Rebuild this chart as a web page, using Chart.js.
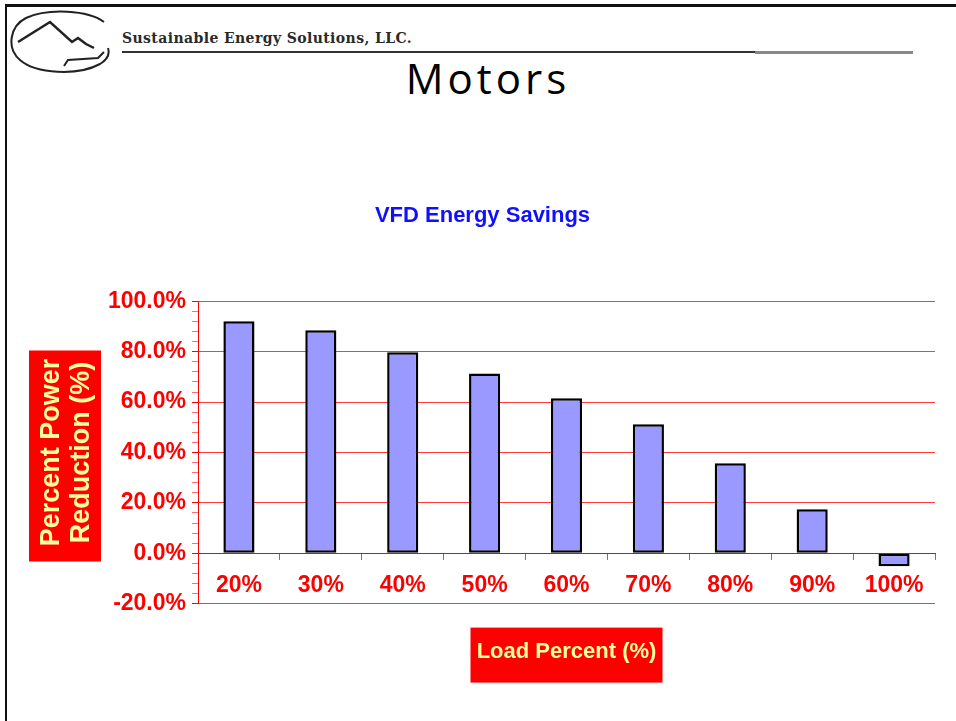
<!DOCTYPE html>
<html>
<head>
<meta charset="utf-8">
<title>VFD Energy Savings</title>
<script src="https://cdn.jsdelivr.net/npm/chart.js@4/dist/chart.umd.min.js"></script>
<style>
  html, body { margin: 0; padding: 0; background: #fff; }
  #slide { position: relative; width: 956px; height: 721px; overflow: hidden; }
  #frame { position: absolute; left: 5px; top: 4px; right: -10px; bottom: -10px;
           border-top: 3px solid #111; border-left: 2px solid #111; }
  #logo { position: absolute; left: 8px; top: 8px; }
  #company { position: absolute; left: 122px; top: 30px; font: bold 14px "DejaVu Serif", serif;
             color: #2a2a2a; letter-spacing: 0.4px; white-space: nowrap; }
  #rule1 { position: absolute; left: 122px; top: 51px; width: 633px; height: 2px; background: #333; }
  #rule2 { position: absolute; left: 755px; top: 51px; width: 158px; height: 3px; background: #888; }
  #heading { position: absolute; left: 0; width: 976px; top: 49px; text-align: center;
             font: 42px "Open Sans", sans-serif; letter-spacing: 4px; color: #000; }
  #wrap { position: absolute; left: 0; top: 0; width: 956px; height: 721px; }
</style>
</head>
<body>
<div id="slide">
  <div id="frame"></div>
  <svg id="logo" width="104" height="68" viewBox="0 0 104 68">
    <path d="M96 14 C80 2 40 0 18 10 C2 18 -2 40 12 52 C28 66 70 68 92 56 C100 51 102 46 100 40"
          fill="none" stroke="#222" stroke-width="2"/>
    <polyline points="10,34 42,14 64,34 70,30 78,36 86,40" fill="none" stroke="#222" stroke-width="2.5"/>
    <polyline points="56,58 60,52 90,50 96,44" fill="none" stroke="#222" stroke-width="2"/>
  </svg>
  <div id="company">Sustainable Energy Solutions, LLC.</div>
  <div id="rule1"></div>
  <div id="rule2"></div>
  <div id="heading">Motors</div>
  <div id="wrap"><canvas id="vfdChart"></canvas></div>
</div>
<script>
const loadLabels = ["20%", "30%", "40%", "50%", "60%", "70%", "80%", "90%", "100%"];
const powerReduction = [92.1, 88.5, 79.8, 71.4, 61.5, 51.2, 35.7, 17.5, -5.2];

const RED = "#ff0000";
const GRID_RED = "#ff3b3b";
const LABEL_YELLOW = "#ffff99";

// red boxes behind the two axis titles
const titleBoxes = {
  id: "titleBoxes",
  beforeDraw(chart) {
    const { ctx, chartArea, scales } = chart;
    const midY = (chartArea.top + chartArea.bottom) / 2;
    ctx.save();
    ctx.fillStyle = RED;
    ctx.fillRect(scales.y.left - 1, midY - 102, 72, 211);
    const midX = (chartArea.left + chartArea.right) / 2;
    ctx.fillRect(midX - 96, chartArea.bottom + 24, 192, 55);
    ctx.restore();
  },
};

const chartData = {
  labels: loadLabels,
  datasets: [
    {
      label: "Percent Power Reduction",
      data: powerReduction,
      backgroundColor: "#9999ff",
      borderColor: "#000",
      borderWidth: 2.5,
      borderSkipped: false,
      categoryPercentage: 1,
      barPercentage: 0.38,
    },
  ],
};

new Chart(document.getElementById("vfdChart"), {
  type: "bar",
  data: chartData,
  plugins: [titleBoxes],
  options: {
    responsive: true,
    maintainAspectRatio: false,
    animation: false,
    layout: { padding: { left: 30, right: 21, top: 203, bottom: 56 } },
    plugins: {
      legend: { display: false },
      tooltip: { enabled: false },
      title: {
        display: true,
        text: "VFD Energy Savings",
        color: "#1010ff",
        font: { family: "Liberation Sans, Arial, sans-serif", size: 22, weight: "bold" },
        padding: { top: 0, bottom: 72 },
      },
      subtitle: {
        display: true,
        position: "bottom",
        fullSize: false,
        text: "Load Percent (%)",
        color: LABEL_YELLOW,
        font: { family: "Liberation Sans, Arial, sans-serif", size: 22, weight: "bold" },
        padding: { top: 35, bottom: 0 },
      },
    },
    scales: {
      x: {
        position: { y: 0 },
        grid: {
          display: true,
          drawOnChartArea: false,
          drawTicks: true,
          tickLength: 6,
          offset: true,
          color: GRID_RED,
        },
        border: { display: true, color: RED, width: 1 },
        ticks: {
          color: RED,
          padding: 13,
          font: { family: "Liberation Sans, Arial, sans-serif", size: 23, weight: "bold" },
        },
      },
      y: {
        min: -20,
        max: 100,
        afterFit(scale) {
          scale.width = 168;
        },
        title: {
          display: true,
          text: ["Percent Power", "Reduction (%)"],
          color: LABEL_YELLOW,
          font: { family: "Liberation Sans, Arial, sans-serif", size: 27, weight: "bold", lineHeight: 1.12 },
          padding: { top: 6, bottom: 0 },
        },
        grid: {
          color: (ctx) => (Math.round(ctx.tick.value) % 20 === 0 ? GRID_RED : "rgba(0,0,0,0)"),
          tickColor: (ctx) => (Math.round(ctx.tick.value) % 20 === 0 ? RED : "#ff7070"),
          tickLength: 6,
        },
        border: { display: true, color: RED, width: 1 },
        ticks: {
          stepSize: 4,
          autoSkip: false,
          padding: 6,
          color: RED,
          font: { family: "Liberation Sans, Arial, sans-serif", size: 23, weight: "bold" },
          callback: (v) => (Math.round(v) % 20 === 0 ? Math.round(v).toFixed(1) + "%" : ""),
        },
      },
    },
  },
});
</script>
</body>
</html>
